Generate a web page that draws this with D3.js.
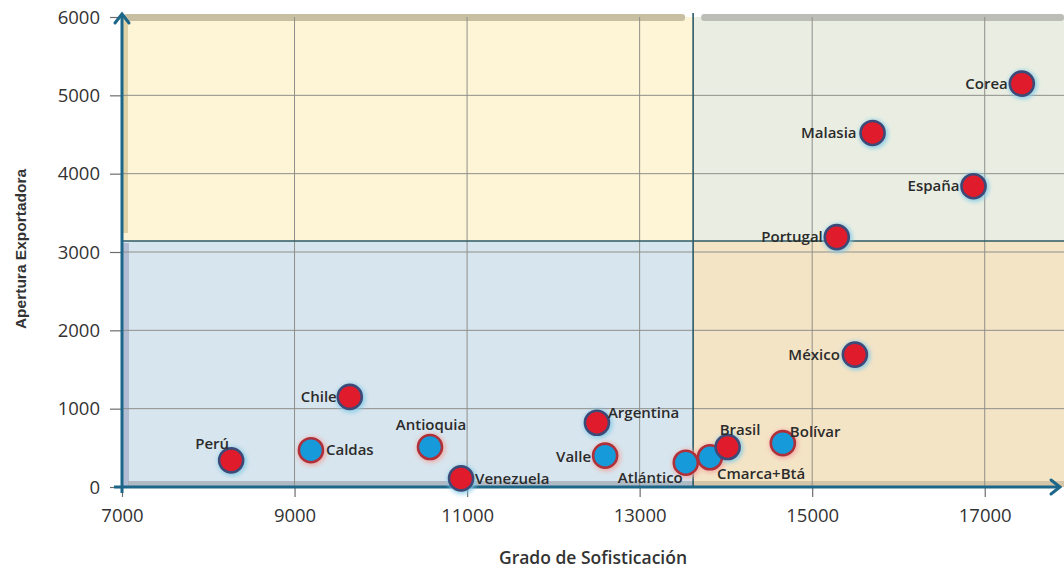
<!DOCTYPE html>
<html>
<head>
<meta charset="utf-8">
<script src="https://cdn.jsdelivr.net/npm/d3@7"></script>
<style>
  html, body { margin: 0; padding: 0; background: #ffffff; }
  svg { display: block; }
</style>
</head>
<body>
<svg id="chart" width="1064" height="571"></svg>
<script>
// Export openness vs. sophistication: countries and Colombian departments
const names = ["Corea", "Malasia", "España", "Portugal", "México", "Chile", "Perú",
               "Caldas", "Antioquia", "Venezuela", "Argentina", "Valle", "Atlántico",
               "Cmarca+Btá", "Brasil", "Bolívar"];
const sofisticacion = [17430, 15700, 16870, 15285, 15495, 9640, 8265,
                       9190, 10570, 10930, 12505, 12600, 13535,
                       13815, 14020, 14660];
const apertura = [5150, 4520, 3840, 3190, 1690, 1150, 340,
                  470, 510, 110, 820, 400, 310,
                  380, 510, 560];
// "pais" = country, "depto" = Colombian department
const grupo = ["pais", "pais", "pais", "pais", "pais", "pais", "pais",
               "depto", "depto", "pais", "pais", "depto", "depto",
               "depto", "pais", "depto"];

const xTicks = [7000, 9000, 11000, 13000, 15000, 17000];
const yTicks = [0, 1000, 2000, 3000, 4000, 5000, 6000];
const xGrid = [9000, 11000, 13000, 15000, 17000];
const yGrid = [1000, 2000, 3000, 4000, 5000];
const xSplit = 13620;   // quadrant boundary on sophistication
const ySplit = 3140;    // quadrant boundary on openness

// label placement relative to each marker
const labelPlace = {
  "Corea":      { dx: -14, dy: 0,   anchor: "end" },
  "Malasia":    { dx: -16, dy: 0,   anchor: "end" },
  "España":     { dx: -14, dy: 0,   anchor: "end" },
  "Portugal":   { dx: -14, dy: 0,   anchor: "end" },
  "México":     { dx: -15, dy: 0,   anchor: "end" },
  "Chile":      { dx: -13, dy: 0,   anchor: "end" },
  "Perú":       { dx: -2,  dy: -17, anchor: "end" },
  "Caldas":     { dx: 15,  dy: 0,   anchor: "start" },
  "Antioquia":  { dx: 1,   dy: -22, anchor: "middle" },
  "Venezuela":  { dx: 14,  dy: 0,   anchor: "start" },
  "Argentina":  { dx: 11,  dy: -10, anchor: "start" },
  "Valle":      { dx: -14, dy: 1,   anchor: "end" },
  "Atlántico":  { dx: -3,  dy: 15,  anchor: "end" },
  "Cmarca+Btá": { dx: 7,   dy: 17,  anchor: "start" },
  "Brasil":     { dx: -8,  dy: -17, anchor: "start" },
  "Bolívar":    { dx: 7,   dy: -11, anchor: "start" }
};

const W = 1064, H = 571;
const svg = d3.select("#chart");

const x = d3.scaleLinear().domain([7000, 18000]).range([122, 1071]);
const y = d3.scaleLinear().domain([0, 6000]).range([487, 17]);
const pLeft = x(7000), pRight = W, pTop = y(6000), pBottom = y(0);
const xs = x(xSplit), ys = y(ySplit);

const defs = svg.append("defs");
const glow = defs.append("filter").attr("id", "glow")
  .attr("x", "-60%").attr("y", "-60%").attr("width", "220%").attr("height", "220%");
glow.append("feGaussianBlur").attr("stdDeviation", 2.2);

const clip = defs.append("clipPath").attr("id", "plotClip");
clip.append("rect").attr("x", pLeft).attr("y", pTop - 4).attr("width", pRight - pLeft).attr("height", pBottom - pTop + 4);

const plot = svg.append("g").attr("clip-path", "url(#plotClip)");

// quadrant backgrounds
const quads = [
  { x0: pLeft, x1: xs, y0: pTop, y1: ys, fill: "#fdf5d6", band: "#c8bfa2" },
  { x0: xs, x1: pRight, y0: pTop, y1: ys, fill: "#eaeee2", band: "#bdbdb8" },
  { x0: pLeft, x1: xs, y0: ys, y1: pBottom, fill: "#d7e5ee", band: null },
  { x0: xs, x1: pRight, y0: ys, y1: pBottom, fill: "#f4e4c6", band: null }
];
plot.selectAll("rect.quad").data(quads).join("rect")
  .attr("class", "quad")
  .attr("x", d => d.x0).attr("y", d => d.y0)
  .attr("width", d => d.x1 - d.x0).attr("height", d => d.y1 - d.y0)
  .attr("fill", d => d.fill);

// shaded top bands of the upper quadrants
plot.selectAll("rect.band").data(quads.filter(d => d.band)).join("rect")
  .attr("class", "band")
  .attr("x", (d, i) => d.x0 + (i ? 8 : 2)).attr("y", pTop - 3)
  .attr("width", (d, i) => d.x1 - d.x0 - (i ? 8 : 10)).attr("height", 7)
  .attr("rx", 3)
  .attr("fill", d => d.band);

// inner shading along the left axis and bottom
plot.append("rect").attr("x", pLeft).attr("y", pTop).attr("width", 6).attr("height", ys - pTop - 8)
  .attr("fill", "#d8c89a").attr("opacity", 0.8);
plot.append("rect").attr("x", pLeft).attr("y", ys + 2).attr("width", 7).attr("height", pBottom - ys - 2)
  .attr("fill", "#a9b1cc").attr("opacity", 0.8);
plot.append("rect").attr("x", pLeft + 6).attr("y", pBottom - 6).attr("width", xs - pLeft - 6).attr("height", 6)
  .attr("fill", "#a5afb9").attr("opacity", 0.8);
plot.append("rect").attr("x", xs).attr("y", pBottom - 6).attr("width", pRight - xs).attr("height", 6)
  .attr("fill", "#c9b99a").attr("opacity", 0.7);

// gridlines
plot.selectAll("line.gx").data(xGrid).join("line")
  .attr("class", "gx")
  .attr("x1", d => x(d)).attr("x2", d => x(d))
  .attr("y1", pTop).attr("y2", pBottom + 10)
  .attr("stroke", "#8f8f8a").attr("stroke-width", 1);
plot.selectAll("line.gy").data(yGrid).join("line")
  .attr("class", "gy")
  .attr("x1", pLeft).attr("x2", pRight)
  .attr("y1", d => y(d)).attr("y2", d => y(d))
  .attr("stroke", "#8f8f8a").attr("stroke-width", 1);

// quadrant dividers
plot.append("line").attr("x1", xs).attr("x2", xs).attr("y1", pTop - 4).attr("y2", pBottom)
  .attr("stroke", "#2c5a66").attr("stroke-width", 1.6);
plot.append("line").attr("x1", pLeft).attr("x2", pRight).attr("y1", ys).attr("y2", ys)
  .attr("stroke", "#2c5a66").attr("stroke-width", 1.6);

// axes
const axisColor = "#1c6689";
const yAxis = d3.axisLeft(y).tickValues(yTicks).tickSize(12).tickPadding(8).tickFormat(d3.format("d"));
const xAxis = d3.axisBottom(x).tickValues(xTicks).tickSize(10).tickPadding(8).tickFormat(d3.format("d"));

const gy = svg.append("g").attr("transform", `translate(${pLeft},0)`).call(yAxis);
const gx = svg.append("g").attr("transform", `translate(0,${pBottom})`).call(xAxis);
[gx, gy].forEach(g => {
  g.select(".domain").remove();
  g.selectAll(".tick line").attr("stroke", "#6d6d6d").attr("stroke-width", 1.2);
  g.selectAll(".tick text")
    .attr("fill", "#333")
    .style("font-family", "'Open Sans', 'DejaVu Sans', sans-serif")
    .style("font-size", "18.5px");
});
gy.selectAll(".tick text").attr("dx", "-2").attr("dy", "0.34em");
gx.selectAll(".tick text").attr("dy", "0.9em");

// axis lines with open arrowheads
svg.append("line").attr("x1", pLeft).attr("x2", pLeft).attr("y1", pBottom + 6).attr("y2", pTop - 3)
  .attr("stroke", axisColor).attr("stroke-width", 3);
svg.append("path").attr("d", `M${pLeft - 7},${pTop + 6} L${pLeft},${pTop - 3} L${pLeft + 7},${pTop + 6}`)
  .attr("fill", "none").attr("stroke", axisColor).attr("stroke-width", 3).attr("stroke-linecap", "round");
svg.append("line").attr("x1", pLeft - 8).attr("x2", W - 5).attr("y1", pBottom).attr("y2", pBottom)
  .attr("stroke", axisColor).attr("stroke-width", 3);
svg.append("path").attr("d", `M${W - 13},${pBottom - 7} L${W - 4},${pBottom} L${W - 13},${pBottom + 7}`)
  .attr("fill", "none").attr("stroke", axisColor).attr("stroke-width", 3).attr("stroke-linecap", "round");

// axis titles
svg.append("text")
  .attr("transform", "translate(26,249) rotate(-90)")
  .attr("text-anchor", "middle")
  .attr("fill", "#333")
  .style("font-family", "'Liberation Sans', Arial, sans-serif")
  .style("font-size", "15.5px").style("font-weight", "bold")
  .text("Apertura Exportadora");
svg.append("text")
  .attr("x", 593).attr("y", 564)
  .attr("text-anchor", "middle")
  .attr("fill", "#333")
  .style("font-family", "'Open Sans', sans-serif")
  .style("font-size", "17.5px").style("font-weight", 600)
  .text("Grado de Sofisticación");

// points
const pts = names.map((n, i) => ({ name: n, sx: sofisticacion[i], ay: apertura[i], g: grupo[i] }));
const pg = svg.append("g");
pg.selectAll("circle.halo").data(pts).join("circle")
  .attr("class", "halo")
  .attr("cx", d => x(d.sx) + 1).attr("cy", d => y(d.ay) + 1)
  .attr("r", 14.5)
  .attr("fill", d => d.g === "pais" ? "#7fc9e6" : "#f0a7a0")
  .attr("opacity", 0.85)
  .attr("filter", "url(#glow)");
pg.selectAll("circle.dot").data(pts).join("circle")
  .attr("class", "dot")
  .attr("cx", d => x(d.sx)).attr("cy", d => y(d.ay))
  .attr("r", 12)
  .attr("fill", d => d.g === "pais" ? "#e01b2b" : "#169ad9")
  .attr("stroke", d => d.g === "pais" ? "#3d4a78" : "#b0303a")
  .attr("stroke-width", 2.6);

// point labels
svg.append("g").selectAll("text").data(pts).join("text")
  .attr("x", d => x(d.sx) + labelPlace[d.name].dx)
  .attr("y", d => y(d.ay) + labelPlace[d.name].dy)
  .attr("dy", "0.35em")
  .attr("text-anchor", d => labelPlace[d.name].anchor)
  .attr("fill", "#2b2b2b")
  .style("font-family", "'Open Sans', sans-serif")
  .style("font-size", "15px").style("font-weight", 600)
  .text(d => d.name);
</script>
</body>
</html>
